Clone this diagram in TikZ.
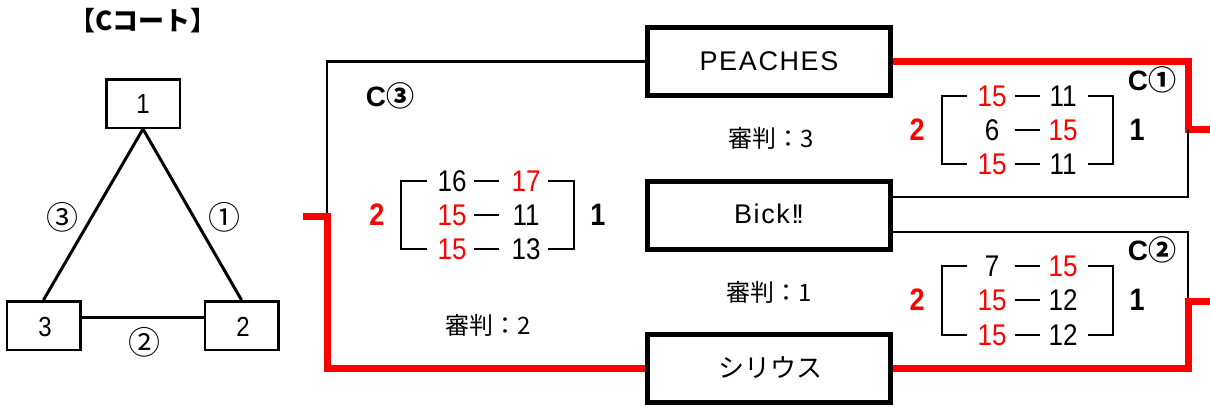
\documentclass[tikz,border=0pt]{standalone}
\usepackage{graphicx}
\usepackage{fontspec}
\setmainfont{Liberation Sans}
\newfontfamily\jp{Noto Sans CJK JP}
\newfontfamily\teamf{Liberation Sans}[LetterSpace=6]
\definecolor{rd}{RGB}{255,0,0}
\newcommand\tn[1]{\scalebox{1}[1.15]{#1}}
\begin{document}
\begin{tikzpicture}[x=1pt,y=-1pt,
  blk/.style={line width=2.2pt},
  redl/.style={line width=7pt, draw=rd},
  brk/.style={line width=2.6pt},
  dsh/.style={line width=2.8pt},
  teambox/.style={draw, line width=5pt, minimum width=243pt, minimum height=68pt, inner sep=0pt, fill=white},
  smallbox/.style={draw, line width=2.5pt, minimum width=73.5pt, minimum height=48.5pt, inner sep=0pt, fill=white},
  tri/.style={line width=3pt},
  num/.style={font=\fontsize{26}{26}\selectfont, inner sep=0pt},
  bnum/.style={font=\bfseries\fontsize{27}{27}\selectfont, inner sep=0pt},
  judge/.style={font=\jp\fontsize{24}{24}\selectfont, inner sep=0pt},
  clab/.style={font=\bfseries\fontsize{28}{28}\selectfont, inner sep=0pt},
  circ/.style={font=\jp\fontsize{32}{32}\selectfont, inner sep=0pt},
  boxnum/.style={font=\fontsize{24}{24}\selectfont, inner sep=0pt}
]
\useasboundingbox (0,0) rectangle (1210,407);

% ---------- left panel ----------
\node[font=\jp\bfseries\fontsize{26}{26}\selectfont, inner sep=0pt] (title) at (143,21) {【Cコート】};
\node[smallbox] (n1) at (143,103.5) {};
\node[smallbox] (n3) at (43.5,325.5) {};
\node[smallbox] (n2) at (241.5,325.5) {};
\draw[tri] (n1.south) -- (n3.north);
\draw[tri] (n1.south) -- (n2.north);
\draw[tri] ([yshift=8pt]n3.east) -- ([yshift=8pt]n2.west);
\node[boxnum] (t1) at (143,104.5) {\tn{1}};
\node[boxnum] (t3) at (45,326.5) {\tn{3}};
\node[boxnum] (t2) at (243,326.5) {\tn{2}};
\node[circ] (l3) at (62,217) {③};
\node[circ] (l1) at (224,217) {①};
\node[circ] (l2) at (144,342) {②};

% ---------- team boxes ----------
\coordinate (c3j) at (327,216);
\coordinate (c3s) at (303,216);
\coordinate (r1) at (1188,129);
\coordinate (r1o) at (1212,129);
\coordinate (r2) at (1188,301);
\coordinate (r2o) at (1212,301);

\node[teambox] (P) at (769,61.5) {};
\node[teambox] (B) at (769,215) {};
\node[teambox] (S) at (769,368.5) {};

\draw[blk] (P.west) -| (c3j);
\draw[redl] (c3s) -- (c3j) |- (S.west);
\draw[redl] (P.east) -| (r1) -- (r1o);
\draw[blk] ([yshift=18pt]B.east) -| (r1);
\draw[blk] ([yshift=-17pt]B.east) -| (r2);
\draw[redl] (S.east) -| (r2) -- (r2o);

\node[teambox] at (P) {};
\node[teambox] at (B) {};
\node[teambox] at (S) {};
\node[font=\teamf\fontsize{27}{27}\selectfont, inner sep=0pt] (Pt) at (769,61) {PEACHES};
\node[font=\teamf\fontsize{27}{27}\selectfont, inner sep=0pt] (Bt) at (769,214) {Bick!\kern-0.1em!};
\node[font=\jp\fontsize{26}{26}\selectfont, inner sep=0pt] (St) at (770,368) {シリウス};

\node[judge] (j3) at (771,138) {審判：3};
\node[judge] (j1) at (769,292) {審判：1};
\node[judge] (j2) at (488,325) {審判：2};

% ---------- C1 block ----------
\node[clab] (c1) at (1152,80) {C{\jp\bfseries ①}};
\node[bnum, text=rd] (c1w) at (917,130) {\tn{2}};
\node[bnum] (c1l) at (1137,130) {\tn{1}};
\draw[brk] (967,96) -- (942,96) -- (942,164) -- (967,164);
\draw[brk] (1088,96) -- (1113,96) -- (1113,164) -- (1088,164);
\foreach \y in {96,130,164} \draw[dsh] (1015,\y) -- (1040,\y);
\node[num, text=rd] at (992,96) {\tn{15}};
\node[num] at (1063,96) {\tn{11}};
\node[num] at (992,130) {\tn{6}};
\node[num, text=rd] at (1063,130) {\tn{15}};
\node[num, text=rd] at (992,164) {\tn{15}};
\node[num] at (1063,164) {\tn{11}};

% ---------- C2 block ----------
\node[clab] (c2) at (1152,250) {C{\jp\bfseries ②}};
\node[bnum, text=rd] (c2w) at (917,300) {\tn{2}};
\node[bnum] (c2l) at (1137,300) {\tn{1}};
\draw[brk] (967,266) -- (942,266) -- (942,335) -- (967,335);
\draw[brk] (1088,266) -- (1113,266) -- (1113,335) -- (1088,335);
\foreach \y in {266,300,335} \draw[dsh] (1015,\y) -- (1040,\y);
\node[num] at (992,266) {\tn{7}};
\node[num, text=rd] at (1063,266) {\tn{15}};
\node[num, text=rd] at (992,300) {\tn{15}};
\node[num] at (1063,300) {\tn{12}};
\node[num, text=rd] at (992,335) {\tn{15}};
\node[num] at (1063,335) {\tn{12}};

% ---------- C3 block ----------
\node[clab] (c3) at (390,96) {C{\jp\bfseries ③}};
\node[bnum, text=rd] (c3w) at (377,215) {\tn{2}};
\node[bnum] (c3l) at (598,215) {\tn{1}};
\draw[brk] (427,181) -- (401,181) -- (401,249) -- (427,249);
\draw[brk] (548,181) -- (574,181) -- (574,249) -- (548,249);
\foreach \y in {181,215,249} \draw[dsh] (474,\y) -- (499,\y);
\node[num] at (452,181) {\tn{16}};
\node[num, text=rd] at (526,181) {\tn{17}};
\node[num, text=rd] at (452,215) {\tn{15}};
\node[num] at (526,215) {\tn{11}};
\node[num, text=rd] at (452,249) {\tn{15}};
\node[num] at (526,249) {\tn{13}};
\end{tikzpicture}
\end{document}
